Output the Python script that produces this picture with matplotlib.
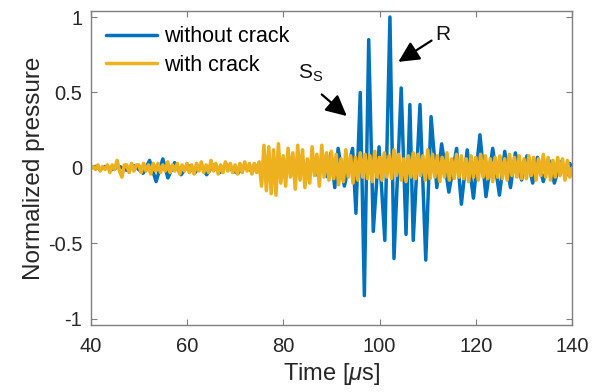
import numpy as np
import matplotlib
matplotlib.use("Agg")
import matplotlib.pyplot as plt

plt.rcParams['font.family'] = ['Liberation Sans', 'DejaVu Sans']
plt.rcParams['mathtext.fontset'] = 'custom'
plt.rcParams['mathtext.rm'] = 'Liberation Sans'
plt.rcParams['mathtext.it'] = 'Liberation Sans:italic'

# ---- data: "without crack" (time [us], normalized pressure) read at extrema ----
blue_t = [40.0, 41.0, 42.0, 43.0, 44.5, 46.0, 47.5, 49.0,
          50.0, 50.9, 52.25, 53.6, 55.0, 56.05, 57.45, 58.8, 60.2, 61.6,
          62.9, 64.1, 65.5, 66.9, 68.3, 69.6, 70.6, 72.0, 73.4, 74.8, 76.2,
          77.6, 79.0, 80.4, 81.8, 83.2, 84.7, 86.0, 87.2, 88.3, 89.2, 89.9,
          90.7, 91.4, 92.7, 94.4, 95.1, 96.0, 96.85, 97.75, 98.7, 99.9,
          101.1, 102.16, 103.0, 104.5, 105.5, 106.3, 107.0, 108.4, 109.6,
          110.7, 111.9, 112.9, 114.4, 116.0, 117.0, 118.2, 119.5, 120.85,
          122.1, 123.5, 124.9, 126.0, 127.2, 128.2, 129.5, 130.6, 131.8,
          132.8, 134.0, 135.2, 136.3, 137.6, 138.7, 139.5, 140.0]
blue_v = [0.0, 0.01, -0.01, 0.01, -0.01, 0.01, -0.015, 0.015,
          -0.01, -0.035, 0.05, -0.09, 0.06, -0.066, 0.035, -0.045, 0.018, -0.033,
          0.015, -0.045, 0.02, -0.03, 0.02, -0.02, -0.035, 0.02, -0.02, 0.02, -0.02,
          0.03, -0.03, 0.03, -0.03, 0.04, -0.04, 0.03, -0.05, 0.05, -0.06, 0.10,
          -0.13, 0.13, -0.12, 0.13, -0.30, 0.50, -0.846, 0.85, -0.42, 0.14,
          -0.48, 1.0, -0.60, 0.53, -0.44, 0.42, -0.48, 0.42, -0.61,
          0.34, -0.13, 0.16, -0.16, 0.13, -0.24, 0.12, -0.20, 0.22,
          -0.19, 0.13, -0.18, 0.11, -0.13, 0.10, -0.08, 0.08, -0.10,
          0.07, -0.09, 0.05, -0.10, 0.04, -0.05, 0.03, 0.0]

# ---- data: "with crack", sampled every 0.5 us from 40 to 140 us ----
yellow_t0, yellow_dt = 40.0, 0.5
yellow_v = [
    0.00, 0.01, -0.01, 0.02, -0.02, 0.01, -0.01, 0.02, -0.03, 0.02, -0.01, 0.05, -0.02, -0.06, 0.02, 0.02, -0.03, 0.03, -0.02, 0.02,
    0.02, -0.03, 0.03, -0.02, 0.02, -0.04, 0.03, -0.02, 0.03, -0.03, 0.02, -0.02, 0.04, -0.03, 0.02, -0.02, 0.03, -0.04, 0.02, -0.02,
    0.03, -0.03, 0.02, -0.04, 0.03, -0.02, 0.04, -0.03, 0.02, -0.03, 0.05, -0.02, 0.03, -0.04, 0.02, -0.03, 0.04, -0.02, 0.03, -0.03,
    0.02, -0.04, 0.03, -0.03, 0.04, -0.02, 0.03, -0.04, 0.03, -0.03, 0.04, -0.12, 0.15, -0.15, 0.14, -0.17, 0.12, -0.18, 0.16, -0.10,
    0.08, -0.12, 0.13, -0.06, 0.10, -0.14, 0.15, -0.08, 0.12, -0.13, 0.06, -0.10, 0.14, -0.05, 0.09, -0.12, 0.15, -0.06, 0.10, -0.08,
    0.11, -0.07, 0.09, -0.11, 0.06, -0.09, 0.12, -0.06, 0.08, -0.10, 0.07, -0.08, 0.10, -0.06, 0.09, -0.07, 0.08, -0.09, 0.11, -0.06,
    0.07, -0.08, 0.10, -0.06, 0.08, -0.07, 0.12, -0.05, 0.09, -0.08, 0.06, -0.09, 0.08, -0.06, 0.10, -0.07, 0.09, -0.05, 0.08, -0.08,
    0.12, -0.07, 0.09, -0.06, 0.08, -0.09, 0.07, -0.06, 0.10, -0.08, 0.06, -0.07, 0.09, -0.06, 0.08, -0.07, 0.06, -0.09, 0.08, -0.06,
    0.07, -0.08, 0.09, -0.06, 0.08, -0.07, 0.06, -0.09, 0.07, -0.06, 0.08, -0.07, 0.06, -0.08, 0.09, -0.05, 0.07, -0.06, 0.08, -0.07,
    0.06, -0.07, 0.08, -0.05, 0.07, -0.08, 0.06, -0.05, 0.09, -0.06, 0.07, -0.08, 0.05, -0.06, 0.07, -0.05, 0.06, -0.08, 0.05, -0.06,
    0.0]
yellow_t = yellow_t0 + yellow_dt * np.arange(len(yellow_v))

series_labels = ["without crack", "with crack"]
x_ticks = [40, 60, 80, 100, 120, 140]
y_ticks = [-1, -0.5, 0, 0.5, 1]
y_ticklabels = ["-1", "-0.5", "0", "0.5", "1"]

BLUE = "#0072BD"
YELLOW = "#EDB120"

fig = plt.figure(figsize=(5.96, 3.92), dpi=100)
ax = fig.add_axes([0.152, 0.171, 0.808, 0.801])

ax.plot(blue_t, blue_v, color=BLUE, lw=2.5, label=series_labels[0],
        solid_joinstyle='round', solid_capstyle='round')
ax.plot(yellow_t, yellow_v, color=YELLOW, lw=2.6, label=series_labels[1],
        solid_joinstyle='round', solid_capstyle='round')

ax.set_xlim(40, 140)
ax.set_ylim(-1.04, 1.04)
ax.set_xticks(x_ticks)
ax.set_yticks(y_ticks)
ax.set_yticklabels(y_ticklabels)
ax.tick_params(direction='in', top=True, right=True, length=4, width=0.8,
               color='#7f7f7f', labelsize=14.5, labelcolor='#262626')
ax.tick_params(axis='x', pad=9)
ax.tick_params(axis='y', pad=6)
for s in ax.spines.values():
    s.set_color('#7f7f7f')
    s.set_linewidth(1.0)

ax.set_xlabel(r'Time [$\mu$s]', fontsize=17, color='#262626', labelpad=3)
ax.set_ylabel('Normalized pressure', fontsize=17.5, color='#262626', labelpad=2)

leg = ax.legend(loc='upper left', frameon=False, fontsize=15.5, handlelength=2.4,
                handletextpad=0.3, labelspacing=0.35, borderaxespad=0.3,
                bbox_to_anchor=(0.0, 1.0))
for h in leg.get_lines():
    h.set_linewidth(2.5)

ax.text(113.2, 0.886, 'R', fontsize=15, ha='center', va='center', color='#111111')
ax.annotate('', xy=(103.9, 0.703), xytext=(110.8, 0.844),
            arrowprops=dict(arrowstyle='-|>,head_length=0.7,head_width=0.35',
                            color='black', lw=1.6, mutation_scale=18,
                            shrinkA=0, shrinkB=0))
ax.text(83.0, 0.63, r'S$_\mathrm{S}$', fontsize=15, ha='left', va='center', color='#111111')
ax.annotate('', xy=(93.2, 0.344), xytext=(88.0, 0.487),
            arrowprops=dict(arrowstyle='-|>,head_length=0.7,head_width=0.35',
                            color='black', lw=1.6, mutation_scale=18,
                            shrinkA=0, shrinkB=0))

fig.savefig('out.png', dpi=100)
